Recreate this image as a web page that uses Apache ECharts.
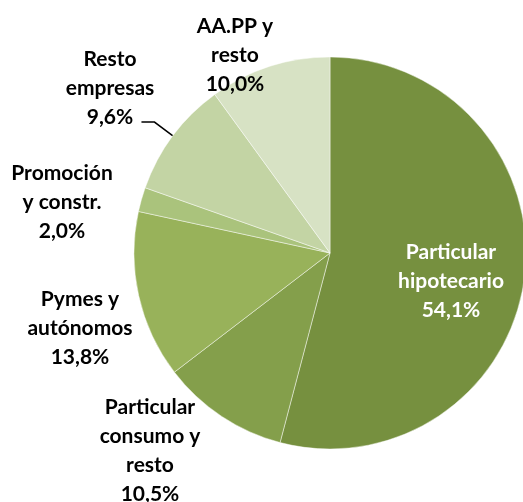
<!DOCTYPE html>
<html>
<head>
<meta charset="utf-8">
<script src="https://cdn.jsdelivr.net/npm/echarts@6/dist/echarts.min.js"></script>
<style>
  html, body { margin: 0; padding: 0; background: #fff; }
  #chart { width: 523px; height: 502px; }
</style>
</head>
<body>
<div id="chart"></div>
<script>
// segmentos de la cartera (sentido horario desde arriba)
const categories = [
  'Particular\nhipotecario',
  'Particular\nconsumo y\nresto',
  'Pymes y\nautónomos',
  'Promoción\ny constr.',
  'Resto\nempresas',
  'AA.PP y\nresto'
];
const shares = [54.1, 10.5, 13.8, 2.0, 9.6, 10.0];
const colors = ['#76903f', '#849f4b', '#98b25a', '#aac37c', '#c3d4a4', '#d7e2c4'];

const CX = 330, CY = 253, R = 196;

// donde va cada etiqueta (centro del bloque de texto)
const labelPos = [
  [451, 281],
  [150, 451],
  [80, 328],
  [62, 202],
  [110, 88],
  [235, 55]
];

const chart = echarts.init(document.getElementById('chart'));

const fmt = v => v.toFixed(1).replace('.', ',') + '%';

// línea guía de "Resto empresas": sale del borde en el ángulo medio del sector
const leaderFor = idx => {
  const total = shares.reduce((a, b) => a + b, 0);
  let before = 0;
  for (let i = 0; i < idx; i++) before += shares[i];
  const frac = (before + shares[idx] / 2) / total;
  const a = (90 - 360 * frac) * Math.PI / 180;
  const p0 = [CX + R * Math.cos(a), CY - R * Math.sin(a)];
  const p1 = [CX + (R + 23) * Math.cos(a), CY - (R + 23) * Math.sin(a)];
  const p2 = [p1[0] - 13, p1[1]];
  return [p0, p1, p2];
};

const option = {
  animation: false,
  textStyle: { fontFamily: 'Lato, "Open Sans", sans-serif' },
  series: [{
    type: 'pie',
    center: [CX, CY],
    radius: R,
    startAngle: 90,
    clockwise: true,
    itemStyle: {
      borderColor: 'rgba(255,255,255,0.45)',
      borderWidth: 1
    },
    label: {
      show: true,
      position: 'outside',
      color: '#000',
      fontWeight: 'bold',
      fontSize: 21,
      lineHeight: 29,
      align: 'center',
      overflow: 'none',
      formatter: p => p.name + '\n' + fmt(p.value)
    },
    labelLine: {
      show: false,
      lineStyle: { color: '#000', width: 1.5 }
    },
    labelLayout: params => {
      const pos = labelPos[params.dataIndex];
      const out = {
        x: pos[0],
        y: pos[1],
        align: 'center',
        verticalAlign: 'middle'
      };
      if (params.dataIndex === 4) {
        out.labelLinePoints = leaderFor(4);
      }
      return out;
    },
    data: categories.map((name, i) => {
      const item = {
        name: name,
        value: shares[i],
        itemStyle: { color: colors[i] }
      };
      if (i === 0) {
        item.label = { color: '#fff' };
      }
      if (i === 4) {
        item.labelLine = { show: true };
      }
      return item;
    })
  }]
};

chart.setOption(option);
</script>
</body>
</html>
